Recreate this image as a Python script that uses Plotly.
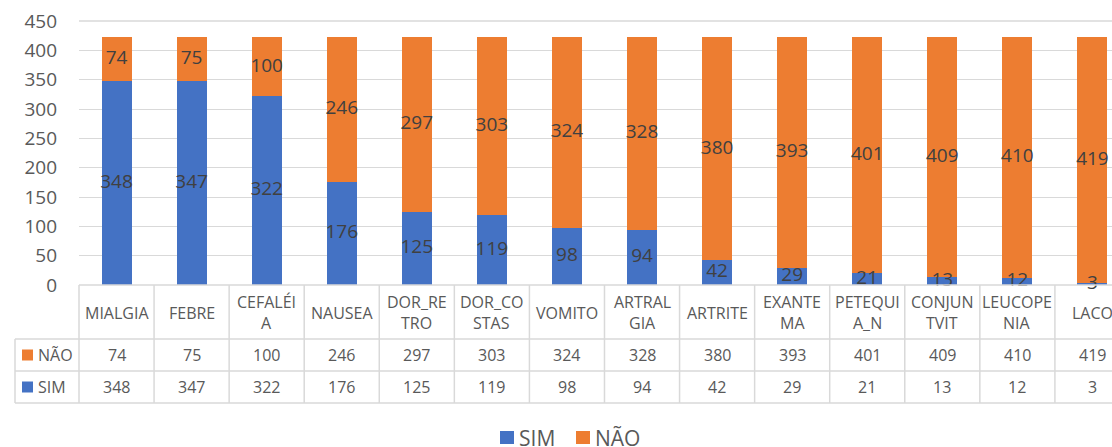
import plotly.graph_objects as go

categories = ["MIALGIA", "FEBRE", "CEFALÉIA", "NAUSEA", "DOR_RETRO", "DOR_COSTAS", "VOMITO",
              "ARTRALGIA", "ARTRITE", "EXANTEMA", "PETEQUIA_N", "CONJUNTVIT", "LEUCOPENIA", "LACO"]
tick_labels = ["MIALGIA", "FEBRE", "CEFALÉI<br>A", "NAUSEA", "DOR_RE<br>TRO", "DOR_CO<br>STAS", "VOMITO",
               "ARTRAL<br>GIA", "ARTRITE", "EXANTE<br>MA", "PETEQUI<br>A_N", "CONJUN<br>TVIT", "LEUCOPE<br>NIA", "LACO"]
sim = [348, 347, 322, 176, 125, 119, 98, 94, 42, 29, 21, 13, 12, 3]
nao = [74, 75, 100, 246, 297, 303, 324, 328, 380, 393, 401, 409, 410, 419]
y_ticks = [0, 50, 100, 150, 200, 250, 300, 350, 400, 450]

BLUE = "#4472C4"
ORANGE = "#ED7D31"
GRID = "#D9D9D9"
FONT = "Open Sans"

W, H = 1112, 447
PLOT_L, PLOT_T, PLOT_B = 79, 21, 285
plot_w = W - PLOT_L
plot_h = PLOT_B - PLOT_T


def py(p):  # pixel y -> paper y
    return (PLOT_B - p) / plot_h


def px(p):  # pixel x -> paper x
    return (p - PLOT_L) / plot_w


fig = go.Figure()
fig.add_trace(go.Bar(name="SIM", x=categories, y=sim, marker_color=BLUE, width=0.4,
                     marker_line_width=0))
fig.add_trace(go.Bar(name="NÃO", x=categories, y=nao, marker_color=ORANGE, width=0.4,
                     marker_line_width=0))

# data labels centred in segments
fig.add_trace(go.Scatter(x=categories, y=[s / 2 for s in sim], text=[str(s) for s in sim],
                         mode="text", textfont=dict(size=19, color="#404040", family=FONT),
                         showlegend=False, hoverinfo="skip", cliponaxis=False))
fig.add_trace(go.Scatter(x=categories, y=[s + n / 2 for s, n in zip(sim, nao)],
                         text=[str(n) for n in nao], mode="text",
                         textfont=dict(size=19, color="#404040", family=FONT),
                         showlegend=False, hoverinfo="skip", cliponaxis=False))

n = len(categories)
span = plot_w / 75.07
shapes = []
annotations = []
line = dict(color=GRID, width=1.5)

# top gridline (450)
shapes.append(dict(type="line", xref="paper", yref="paper", x0=0, x1=1, y0=1, y1=1,
                   line=dict(color=GRID, width=1.3)))

# table grid (pixel positions from the reference)
ROW_TOP, ROW_HDR_B, ROW_NAO_B, ROW_SIM_B = 285, 339, 371, 403
KEY_L = 15
shapes.append(dict(type="line", xref="paper", yref="paper", x0=0, x1=1, y0=py(ROW_TOP), y1=py(ROW_TOP), line=line))
for yb in (ROW_HDR_B, ROW_NAO_B, ROW_SIM_B):
    shapes.append(dict(type="line", xref="paper", yref="paper", x0=px(KEY_L), x1=1, y0=py(yb), y1=py(yb), line=line))
shapes.append(dict(type="line", xref="paper", yref="paper", x0=0, x1=0, y0=py(ROW_TOP), y1=py(ROW_SIM_B), line=line))
shapes.append(dict(type="line", xref="paper", yref="paper", x0=px(KEY_L), x1=px(KEY_L),
                   y0=py(ROW_HDR_B), y1=py(ROW_SIM_B), line=line))
for i in range(1, n + 1):
    shapes.append(dict(type="line", xref="x", yref="paper", x0=i - 0.5, x1=i - 0.5,
                       y0=py(ROW_TOP), y1=py(ROW_SIM_B), line=line))

tfont = dict(family=FONT, size=16, color="#595959")
for i, (cat, lab) in enumerate(zip(categories, tick_labels)):
    parts = lab.split("<br>")
    ys = [313] if len(parts) == 1 else [302, 323]
    for part, yy in zip(parts, ys):
        annotations.append(dict(x=cat, xref="x", y=py(yy), yref="paper", text=part, showarrow=False,
                                font=tfont, xanchor="center", yanchor="middle"))
    annotations.append(dict(x=cat, xref="x", y=py(355), yref="paper", text=str(nao[i]), showarrow=False,
                            font=tfont, xanchor="center", yanchor="middle"))
    annotations.append(dict(x=cat, xref="x", y=py(387), yref="paper", text=str(sim[i]), showarrow=False,
                            font=tfont, xanchor="center", yanchor="middle"))

# key column
for yc, col, name in ((355, ORANGE, "NÃO"), (387, BLUE, "SIM")):
    shapes.append(dict(type="rect", xref="paper", yref="paper", x0=px(22), x1=px(33),
                       y0=py(yc - 5.5), y1=py(yc + 5.5), fillcolor=col, line=dict(width=0)))
    annotations.append(dict(x=px(36), xref="paper", y=py(yc), yref="paper", text=name, showarrow=False,
                            font=tfont, xanchor="left", yanchor="middle"))

# legend (bottom centre)
lfont = dict(family=FONT, size=21, color="#595959")
for x0, col, name in ((500, BLUE, "SIM"), (576, ORANGE, "NÃO")):
    shapes.append(dict(type="rect", xref="paper", yref="paper", x0=px(x0), x1=px(x0 + 14),
                       y0=py(444), y1=py(431), fillcolor=col, line=dict(width=0)))
    annotations.append(dict(x=px(x0 + 17), xref="paper", y=py(438), yref="paper", text=name,
                            showarrow=False, font=lfont, xanchor="left", yanchor="middle"))

fig.update_layout(
    width=W, height=H,
    margin=dict(l=PLOT_L, r=0, t=PLOT_T, b=H - PLOT_B, pad=0),
    barmode="stack",
    bargap=0.6,
    plot_bgcolor="white", paper_bgcolor="white",
    font=dict(family=FONT, color="#595959"),
    shapes=shapes, annotations=annotations,
    showlegend=False,
    xaxis=dict(range=[-0.5, -0.5 + span], showticklabels=False, showgrid=False, zeroline=False,
               showline=False, ticks="", fixedrange=True),
    yaxis=dict(range=[0, 450], tickvals=y_ticks, showgrid=True, gridcolor=GRID, gridwidth=1.3,
               zeroline=False, showline=False, ticks="", ticklabelstandoff=21,
               ticklabeloverflow="allow",
               tickfont=dict(size=19, color="#595959", family=FONT), fixedrange=True),
)

fig.write_html(
    "out.html",
    config={"displayModeBar": False},
    post_script="document.body.style.margin='0';document.body.style.overflow='hidden';",
)
